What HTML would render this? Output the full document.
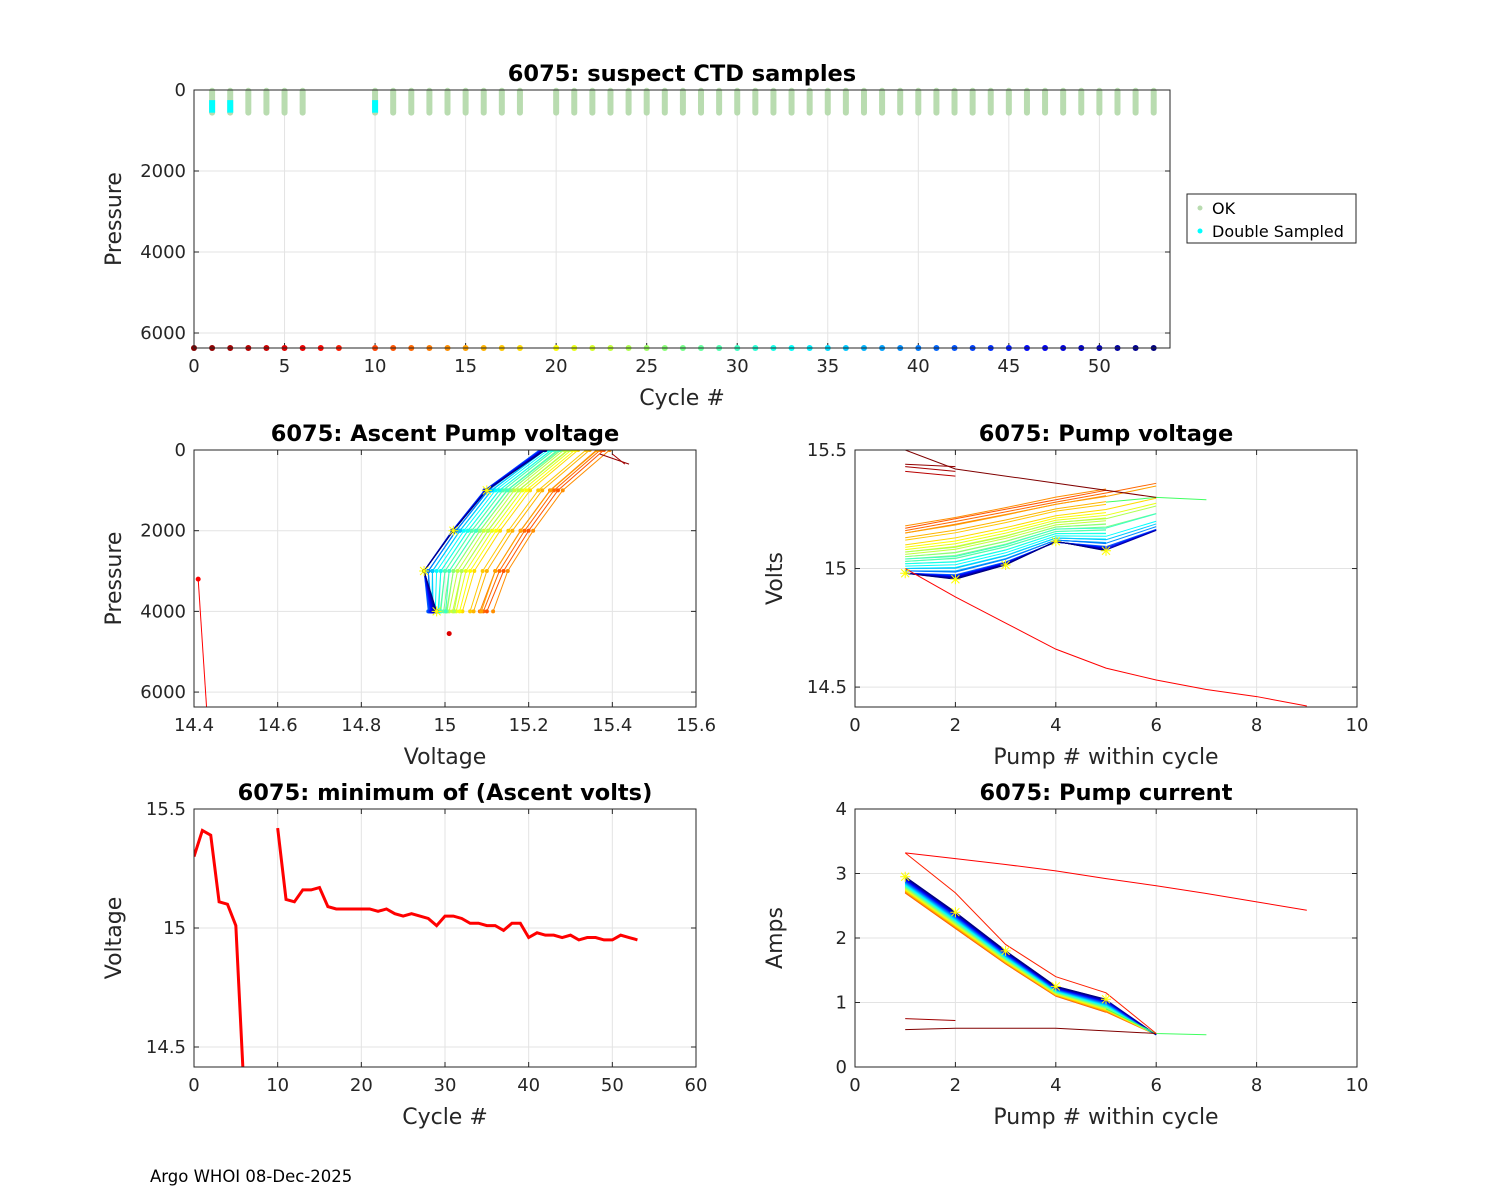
<!DOCTYPE html>
<html><head><meta charset="utf-8"><style>
body{margin:0;background:#fff}
svg{display:block;font-family:"DejaVu Sans","Liberation Sans",sans-serif}
</style></head><body>
<svg id="fig" width="1500" height="1200" xmlns="http://www.w3.org/2000/svg">
<rect width="1500" height="1200" fill="#fff"/>
</svg>
<script>
// ---- data ----
const cycles = [0,1,2,3,4,5,6,7,8,10,11,12,13,14,15,16,17,18,20,21,22,23,24,25,26,27,28,29,30,31,32,33,34,35,36,37,38,39,40,41,42,43,44,45,46,47,48,49,50,51,52,53];
const okCycles = [1,2,3,4,5,6,10,11,12,13,14,15,16,17,18,20,21,22,23,24,25,26,27,28,29,30,31,32,33,34,35,36,37,38,39,40,41,42,43,44,45,46,47,48,49,50,51,52,53];
const doubleCycles = [1,2,10];
const minCycles = [0,1,2,3,4,5,6,null,10,11,12,13,14,15,16,17,18,19,20,21,22,23,24,25,26,27,28,29,30,31,32,33,34,35,36,37,38,39,40,41,42,43,44,45,46,47,48,49,50,51,52,53];
const minVolts = [15.3,15.41,15.39,15.11,15.1,15.01,14.3,null,15.42,15.12,15.11,15.16,15.16,15.17,15.09,15.08,15.08,15.08,15.08,15.08,15.07,15.08,15.06,15.05,15.06,15.05,15.04,15.01,15.05,15.05,15.04,15.02,15.02,15.01,15.01,14.99,15.02,15.02,14.96,14.98,14.97,14.97,14.96,14.97,14.95,14.96,14.96,14.95,14.95,14.97,14.96,14.95];
const pumpCycles = [11,12,13,14,15,16,17,18,20,21,22,23,24,25,26,27,28,29,30,31,32,33,34,35,36,37,38,39,40,41,42,43,44,45,46,47,48,49,50,51,52,53];
const pump1Volts = [15.17,15.16,15.15,15.18,15.15,15.13,15.12,15.1,15.09,15.08,15.07,15.06,15.07,15.05,15.05,15.04,15.03,15.03,15.04,15.02,15.02,15.01,15.0,15.0,15.0,14.99,14.99,14.99,14.99,14.98,14.98,14.98,14.98,14.98,14.98,14.98,14.98,14.98,14.98,14.98,14.98,14.98];
const profileEarly = [0,0.04,0.08,0.12,0.16,0.2];
const profileLate = [0,-0.025,0.035,0.135,0.095,0.18];
const currentEarly = [2.7,2.15,1.6,1.1,0.85,0.5];
const currentLate = [2.95,2.4,1.8,1.25,1.05,0.5];
const outlierPumps = [1,2,3,4,5,6,7,8,9];
const outlierVolts = [15.0,14.88,14.77,14.66,14.58,14.53,14.49,14.46,14.42];
const outlierAmps = [3.32,3.23,3.14,3.04,2.92,2.81,2.69,2.56,2.43];
const lowAmps = [0.58,0.6,0.6,0.6,0.56,0.52];
const ascentPressures = [4000,3000,2000,1000,0];
const ascentLate = [14.98,14.95,15.02,15.1,15.24];
const ascentEarly = [15.1,15.14,15.2,15.27,15.38];

const svg=document.getElementById('fig');
const NS='http://www.w3.org/2000/svg';
function el(tag,attrs,parent,text){const e=document.createElementNS(NS,tag);for(const k in attrs)e.setAttribute(k,attrs[k]);if(text!==undefined)e.textContent=text;(parent||svg).appendChild(e);return e;}
function jet(c){const t=1-c/53;const cl=v=>Math.max(0,Math.min(1,v));const r=cl(1.5-Math.abs(4*t-3)),g=cl(1.5-Math.abs(4*t-2)),b=cl(1.5-Math.abs(4*t-1));return `rgb(${Math.round(r*255)},${Math.round(g*255)},${Math.round(b*255)})`;}
function mix(a,b,t){return a.map((v,i)=>v*(1-t)+b[i]*t);}

function axes(name,x0,y0,x1,y1,xl,yl,xt,yt,title,xlab,ylab,rev){
  const g=el('g',{});
  const sx=v=>x0+(v-xl[0])/(xl[1]-xl[0])*(x1-x0);
  const sy=rev?(v=>y0+(v-yl[0])/(yl[1]-yl[0])*(y1-y0)):(v=>y1-(v-yl[0])/(yl[1]-yl[0])*(y1-y0));
  xt.forEach(v=>{const x=sx(v);el('line',{x1:x,x2:x,y1:y0,y2:y1,stroke:'#e3e3e3'},g);el('line',{x1:x,x2:x,y1:y1,y2:y1-5,stroke:'#262626'},g);el('line',{x1:x,x2:x,y1:y0,y2:y0+5,stroke:'#262626'},g);el('text',{x:x,y:y1+24,'font-size':18,'text-anchor':'middle',fill:'#262626'},g,String(v));});
  yt.forEach(v=>{const y=sy(v);el('line',{x1:x0,x2:x1,y1:y,y2:y,stroke:'#e3e3e3'},g);el('line',{x1:x0,x2:x0+5,y1:y,y2:y,stroke:'#262626'},g);el('line',{x1:x1,x2:x1-5,y1:y,y2:y,stroke:'#262626'},g);el('text',{x:x0-8,y:y+6,'font-size':18,'text-anchor':'end',fill:'#262626'},g,String(v));});
  const t=el('text',{x:(x0+x1)/2,y:y0-9,'font-size':22.5,'font-weight':'bold','text-anchor':'middle',fill:'#000'},g,title);
  const xa=el('text',{x:(x0+x1)/2,y:y1+57,'font-size':22,'text-anchor':'middle',fill:'#262626'},g,xlab);
  const ya=el('text',{x:0,y:0,'font-size':22,'text-anchor':'middle',fill:'#262626',transform:`translate(${x0-73},${(y0+y1)/2}) rotate(-90)`},g,ylab);
  const id='c'+name;const cp=el('clipPath',{id:id},g);el('rect',{x:x0,y:y0,width:x1-x0,height:y1-y0},cp);
  const plot=el('g',{'clip-path':`url(#${id})`},g);
  const free=el('g',{},g);
  return {g,plot,free,sx,sy,box:()=>el('rect',{x:x0,y:y0,width:x1-x0,height:y1-y0,fill:'none',stroke:'#262626'},g)};
}
function poly(a,xs,ys,stroke,w,name){const p=el('polyline',{points:xs.map((x,i)=>a.sx(x)+','+a.sy(ys[i])).join(' '),fill:'none',stroke:stroke,'stroke-width':w},a.plot);return p;}
function star(a,x,y,name){const cx=a.sx(x),cy=a.sy(y);const s=el('path',{d:`M${cx-5},${cy}h10M${cx},${cy-5}v10M${cx-4},${cy-4}l8,8M${cx-4},${cy+4}l8,-8`,stroke:'#ff0',fill:'none','stroke-width':1},a.plot);}

// Panel 1
const A=axes('suspect-ctd-chart',194,90,1170,348,[0,53.9],[0,6370],[0,5,10,15,20,25,30,35,40,45,50],[0,2000,4000,6000],'6075: suspect CTD samples','Cycle #','Pressure',true);
A.box();
okCycles.forEach(c=>{const r=el('line',{x1:A.sx(c),x2:A.sx(c),y1:A.sy(20),y2:A.sy(560),stroke:'#b9dcb0','stroke-width':6,'stroke-linecap':'round'},A.free);});
doubleCycles.forEach(c=>{const r=el('line',{x1:A.sx(c),x2:A.sx(c),y1:A.sy(250),y2:A.sy(560),stroke:'#00ffff','stroke-width':6},A.free);});
cycles.forEach(c=>{const d=el('circle',{cx:A.sx(c),cy:A.sy(6370),r:3,fill:jet(c)},A.free);});
const lg=el('g',{});
el('rect',{x:1187,y:194,width:169,height:49,fill:'#fff',stroke:'#262626'},lg);
el('circle',{cx:1200,cy:208,r:2.5,fill:'#b9dcb0'},lg);el('text',{x:1212,y:214,'font-size':16,fill:'#000'},lg,'OK');
el('circle',{cx:1200,cy:231,r:2.5,fill:'#00ffff'},lg);el('text',{x:1212,y:237,'font-size':16,fill:'#000'},lg,'Double Sampled');

// Panel 2
const B=axes('ascent-pump-voltage-chart',194,450,696,707,[14.4,15.6],[0,6370],[14.4,14.6,14.8,15,15.2,15.4,15.6],[0,2000,4000,6000],'6075: Ascent Pump voltage','Voltage','Pressure',true);
pumpCycles.forEach((c,i)=>{const t=(c-11)/42;const v=mix(ascentEarly,ascentLate,t).map(x=>x+(pump1Volts[i]-(15.17*(1-t)+14.98*t)));poly(B,v,ascentPressures,jet(c),1,'ascent-line-'+c);v.forEach((x,j)=>{el('circle',{cx:B.sx(x),cy:B.sy(ascentPressures[j]),r:2,fill:jet(c)},B.plot);});});
[[1,15.37,15.44],[2,15.4,15.43]].forEach(([c,a,b])=>{poly(B,[a,b],[100,350],jet(c),1,'ascent-line-'+c);});
poly(B,[14.41,14.43],[3200,6370],'#ff0000',1,'ascent-outlier');el('circle',{cx:B.sx(14.41),cy:B.sy(3200),r:2.5,fill:'#f00'},B.plot);
el('circle',{cx:B.sx(15.01),cy:B.sy(4550),r:2.5,fill:'#d00'},B.plot);
ascentPressures.slice(0,4).forEach((p,j)=>star(B,ascentLate[j],p,'ascent-star-'+j));
B.box();

// Panel 3
const C=axes('pump-voltage-chart',855,450,1357,707,[0,10],[14.416,15.5],[0,2,4,6,8,10],[14.5,15,15.5],'6075: Pump voltage','Pump # within cycle','Volts',false);
pumpCycles.forEach((c,i)=>{const t=(c-11)/42;const prof=mix(profileEarly,profileLate,t);const n=(c%3===0)?6:5;const xs=[1,2,3,4,5,6].slice(0,n);poly(C,xs,xs.map((x,j)=>pump1Volts[i]+prof[j]),jet(c),1,'pump-volt-line-'+c);});
poly(C,[5,6,7],[15.28,15.3,15.29],'#40ff60',1,'pump-volt-line-extra');
poly(C,outlierPumps,outlierVolts,'#ff0000',1,'pump-volt-outlier');
poly(C,[1,2,6],[15.5,15.42,15.3],'#800000',1,'pump-volt-line-0');
[[15.44,15.43],[15.43,15.41],[15.41,15.39]].forEach((v,k)=>poly(C,[1,2],v,jet(k+1),1,'pump-volt-early-'+k));
[1,2,3,4,5].forEach((p,j)=>star(C,p,14.98+profileLate[j],'pump-volt-star-'+p));
C.box();

// Panel 4
const D=axes('min-ascent-volts-chart',194,809,696,1067,[0,60],[14.416,15.5],[0,10,20,30,40,50,60],[14.5,15,15.5],'6075: minimum of (Ascent volts)','Cycle #','Voltage',false);
let seg=[];const segs=[];minCycles.forEach((c,i)=>{if(c===null){segs.push(seg);seg=[];}else seg.push([c,minVolts[i]]);});segs.push(seg);
segs.forEach((s,k)=>poly(D,s.map(p=>p[0]),s.map(p=>p[1]),'#ff0000',3,'min-volts-line-'+k));
D.box();

// Panel 5
const E=axes('pump-current-chart',855,809,1357,1067,[0,10],[0,4],[0,2,4,6,8,10],[0,1,2,3,4],'6075: Pump current','Pump # within cycle','Amps',false);
pumpCycles.forEach((c,i)=>{const t=(c-11)/42;const prof=mix(currentEarly,currentLate,t);const n=(c%3===0)?6:5;const xs=[1,2,3,4,5,6].slice(0,n);poly(E,xs,prof.slice(0,n),jet(c),1.2,'pump-current-line-'+c);});
poly(E,[5,6,7],[0.9,0.52,0.5],'#40ff60',1,'pump-current-extra');
poly(E,outlierPumps,outlierAmps,'#ff0000',1,'pump-current-outlier');
poly(E,[1,2,3,4,5,6],lowAmps,'#800000',1,'pump-current-low');
poly(E,[1,2],[0.75,0.72],'#a00000',1,'pump-current-early');
poly(E,[1,2,3,4,5,6],[3.32,2.7,1.9,1.4,1.15,0.52],'#ff2000',1,'pump-current-red');
[1,2,3,4,5].forEach((p,j)=>star(E,p,currentLate[j],'pump-current-star-'+p));
E.box();

const f=el('text',{x:150,y:1182,'font-size':16.5,fill:'#000'},svg,'Argo WHOI 08-Dec-2025');

</script>
</body></html>
